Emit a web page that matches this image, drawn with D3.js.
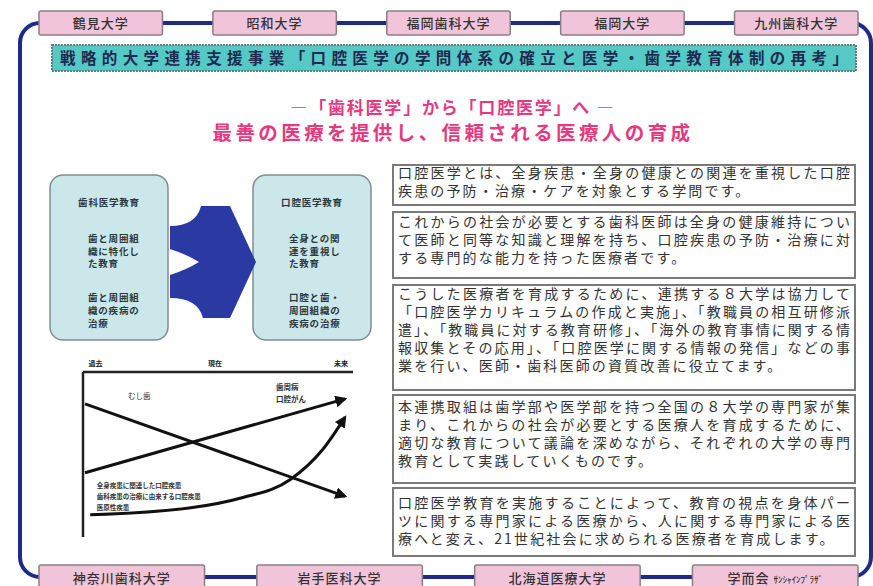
<!DOCTYPE html>
<html><head><meta charset="utf-8">
<script src="https://cdn.jsdelivr.net/npm/d3@7"></script>
<style>
body{margin:0;background:#fff;}
svg{display:block;}
text{font-family:"Noto Sans CJK JP","Noto Sans",sans-serif;}
</style></head><body>
<svg id="c" width="873" height="586"></svg>
<script>
// ---------- data ----------
const topUniversities = ["鶴見大学","昭和大学","福岡歯科大学","福岡大学","九州歯科大学"];
const bottomUniversities = ["神奈川歯科大学","岩手医科大学","北海道医療大学","学而会 "];
const bottomSuffix = ["","","","ｻﾝｼｬｲﾝﾌﾟﾗｻﾞ"];
const bannerText = "戦略的大学連携支援事業「口腔医学の学問体系の確立と医学・歯学教育体制の再考」";
const headline1 = "―「歯科医学」から「口腔医学」へ ―";
const headline2 = "最善の医療を提供し、信頼される医療人の育成";
const leftBoxTitles = ["歯科医学教育","口腔医学教育"];
const leftBoxGroup1 = [["歯と周囲組","織に特化し","た教育"],["全身との関","連を重視し","た教育"]];
const leftBoxGroup2 = [["歯と周囲組","織の疾病の","治療"],["口腔と歯・","周囲組織の","疾病の治療"]];
const paragraphs = [
 ["口腔医学とは、全身疾患・全身の健康との関連を重視した口腔","疾患の予防・治療・ケアを対象とする学問です。"],
 ["これからの社会が必要とする歯科医師は全身の健康維持につい","て医師と同等な知識と理解を持ち、口腔疾患の予防・治療に対","する専門的な能力を持った医療者です。"],
 ["こうした医療者を育成するために、連携する８大学は協力して","「口腔医学カリキュラムの作成と実施」、「教職員の相互研修派","遣」、「教職員に対する教育研修」、「海外の教育事情に関する情","報収集とその応用」、「口腔医学に関する情報の発信」などの事","業を行い、医師・歯科医師の資質改善に役立てます。"],
 ["本連携取組は歯学部や医学部を持つ全国の８大学の専門家が集","まり、これからの社会が必要とする医療人を育成するために、","適切な教育について議論を深めながら、それぞれの大学の専門","教育として実践していくものです。"],
 ["口腔医学教育を実施することによって、教育の視点を身体パー","ツに関する専門家による医療から、人に関する専門家による医","療へと変え、21世紀社会に求められる医療者を育成します。"]
];
// trend chart (time 0=過去, 1=現在, 2=未来 ; level 0..100)
const timeLabels = ["過去","現在","未来"];
const timeLabelT = [0.08, 1.0, 1.97];
const cariesTrend = [[0,81],[2,26]];
const perioTrend = [[0,40],[2,84]];
const systemicCurve = [[0.04,15],[0.8,19],[1.2,25],[1.58,36],[1.83,54],[2.0,73]];
const cariesLabel = ["むし歯"];
const perioLabel = ["歯周病","口腔がん"];
const systemicLabel = ["全身疾患に関連した口腔疾患","歯科疾患の治療に由来する口腔疾患","医原性疾患"];

// ---------- drawing ----------
const svg = d3.select("#c");
const navy = "#1f2b8a";

// frame
svg.append("rect").attr("x",20).attr("y",23).attr("width",851).attr("height",554)
  .attr("rx",20).attr("fill","none").attr("stroke",navy).attr("stroke-width",4);

// top university boxes
const topX = d3.scaleBand().domain(topUniversities).range([39,858]).paddingInner(0.29);
const tg = svg.append("g").selectAll("g").data(topUniversities).join("g")
  .attr("transform",d=>`translate(${topX(d)},11)`);
tg.append("rect").attr("width",topX.bandwidth()).attr("height",24).attr("rx",2)
  .attr("fill","#f2c4da").attr("stroke","#8a7f86").attr("stroke-width",1.5);
tg.append("text").attr("x",topX.bandwidth()/2).attr("y",17).attr("text-anchor","middle")
  .attr("font-size",13).attr("font-weight",500).attr("fill","#333").attr("letter-spacing",1).text(d=>d);

// bottom university boxes
const botX = d3.scaleBand().domain(bottomUniversities).range([39,858]).paddingInner(0.24);
const bg = svg.append("g").selectAll("g").data(bottomUniversities).join("g")
  .attr("transform",d=>`translate(${botX(d)},565)`);
bg.append("rect").attr("width",botX.bandwidth()).attr("height",30).attr("rx",2)
  .attr("fill","#f2c4da").attr("stroke","#8a7f86").attr("stroke-width",1.5);
const bt = bg.append("text").attr("x",botX.bandwidth()/2).attr("y",18).attr("text-anchor","middle")
  .attr("font-size",13).attr("font-weight",500).attr("fill","#333").attr("letter-spacing",1);
bt.append("tspan").text(d=>d);
bt.append("tspan").attr("font-size",9).attr("letter-spacing",0).text((d,i)=>bottomSuffix[i]);

// banner
svg.append("rect").attr("x",52).attr("y",45).attr("width",804).attr("height",26)
  .attr("fill","#55c9c6").attr("stroke","#5f7f7e").attr("stroke-width",2).attr("stroke-dasharray","2,1");
svg.append("text").attr("x",60).attr("y",64).attr("textLength",788).attr("lengthAdjust","spacing")
  .attr("font-size",15.5).attr("font-weight",700).attr("fill","#1e2a50").text(bannerText);

// headlines
svg.append("text").attr("x",453).attr("y",114).attr("text-anchor","middle")
  .attr("font-size",17).attr("font-weight",700).attr("fill","#e43a80").attr("letter-spacing",1.8).text(headline1);
svg.append("text").attr("x",453).attr("y",140).attr("text-anchor","middle")
  .attr("font-size",19.5).attr("font-weight",700).attr("fill","#e43a80").attr("letter-spacing",3.4).text(headline2);

// left boxes
const lbX = [50,253];
leftBoxTitles.forEach((t,i)=>{
  const g = svg.append("g").attr("transform",`translate(${lbX[i]},175)`);
  g.append("rect").attr("width",118).attr("height",165).attr("rx",13)
    .attr("fill","#cce7ea").attr("stroke","#7f8f92").attr("stroke-width",1.5);
  g.append("text").attr("x",59).attr("y",31).attr("text-anchor","middle").attr("font-size",9.5)
    .attr("font-weight",700).attr("fill","#2a3a40").attr("letter-spacing",0.8).text(t);
  leftBoxGroup1[i].forEach((l,j)=>g.append("text").attr("x",i?36:38).attr("y",67+j*12.5)
    .attr("font-size",9.5).attr("font-weight",700).attr("fill","#2a3a40").attr("letter-spacing",0.8).text(l));
  leftBoxGroup2[i].forEach((l,j)=>g.append("text").attr("x",i?36:38).attr("y",126+j*13)
    .attr("font-size",9.5).attr("font-weight",700).attr("fill","#2a3a40").attr("letter-spacing",0.8).text(l));
});
// chevron arrow
svg.append("path").attr("fill","#2b39a3")
  .attr("d","M201,206 L230,206 L256,262 L230,318 L203,318 Q198,298 170,298 L170,275 Q186,270 199,262 Q186,254 170,249 L170,226 Q196,226 201,206 Z");

// trend chart
const tx = d3.scaleLinear().domain([0,2]).range([85,345]);
const ty = d3.scaleLinear().domain([0,100]).range([540,372]);
const defs = svg.append("defs");
defs.append("marker").attr("id","ah").attr("viewBox","0 0 10 10").attr("refX",8).attr("refY",5)
  .attr("markerWidth",4).attr("markerHeight",4).attr("orient","auto")
  .append("path").attr("d","M0,0 L10,5 L0,10 Z").attr("fill","#111");
const cg = svg.append("g");
cg.append("line").attr("x1",tx(0)-2).attr("x2",353).attr("y1",ty(100)).attr("y2",ty(100)).attr("stroke","#222").attr("stroke-width",2.5);
cg.append("line").attr("x1",tx(0)-2).attr("x2",tx(0)-2).attr("y1",ty(100)).attr("y2",537).attr("stroke","#222").attr("stroke-width",2.5);
cg.selectAll("text.tl").data(timeLabels).join("text").attr("class","tl")
  .attr("x",(d,i)=>tx(timeLabelT[i])).attr("y",ty(100)-6).attr("text-anchor","middle")
  .attr("font-size",7).attr("font-weight",700).attr("fill","#222").text(d=>d);
const line = d3.line().x(d=>tx(d[0])).y(d=>ty(d[1]));
const curve = d3.line().curve(d3.curveMonotoneX).x(d=>tx(d[0])).y(d=>ty(d[1]));
[cariesTrend, perioTrend].forEach(s=>cg.append("path").attr("d",line(s)).attr("fill","none")
  .attr("stroke","#111").attr("stroke-width",3).attr("marker-end","url(#ah)"));
cg.append("path").attr("d",curve(systemicCurve)).attr("fill","none")
  .attr("stroke","#111").attr("stroke-width",3).attr("marker-end","url(#ah)");
cg.append("text").attr("x",tx(0.33)).attr("y",ty(84)).attr("font-size",7.5).attr("fill","#333").text(cariesLabel[0]);
perioLabel.forEach((l,i)=>cg.append("text").attr("x",tx(1.47)).attr("y",ty(89)+i*12)
  .attr("font-size",7.5).attr("font-weight",700).attr("fill","#333").text(l));
systemicLabel.forEach((l,i)=>cg.append("text").attr("x",tx(0.09)).attr("y",ty(31)+i*11)
  .attr("font-size",6.5).attr("font-weight",700).attr("fill","#333").text(l));

// right text boxes
const boxY = [165,212,285,395,488];
const boxH = [40,66,105,88,68];
const lineH = 18;
const firstLine = [13,15,14,17,20];
paragraphs.forEach((p,i)=>{
  const g = svg.append("g").attr("transform",`translate(393,${boxY[i]})`);
  g.append("rect").attr("width",462).attr("height",boxH[i]).attr("fill","#fff")
    .attr("stroke","#7a7a7a").attr("stroke-width",2);
  p.forEach((l,j)=>{
    const t = g.append("text").attr("x",5).attr("y",firstLine[i]+j*lineH)
      .attr("font-size",14).attr("fill","#333").text(l);
    if(j<p.length-1) t.attr("textLength",452).attr("lengthAdjust","spacing");
    else t.attr("letter-spacing",2.15);
  });
});
</script></body></html>
